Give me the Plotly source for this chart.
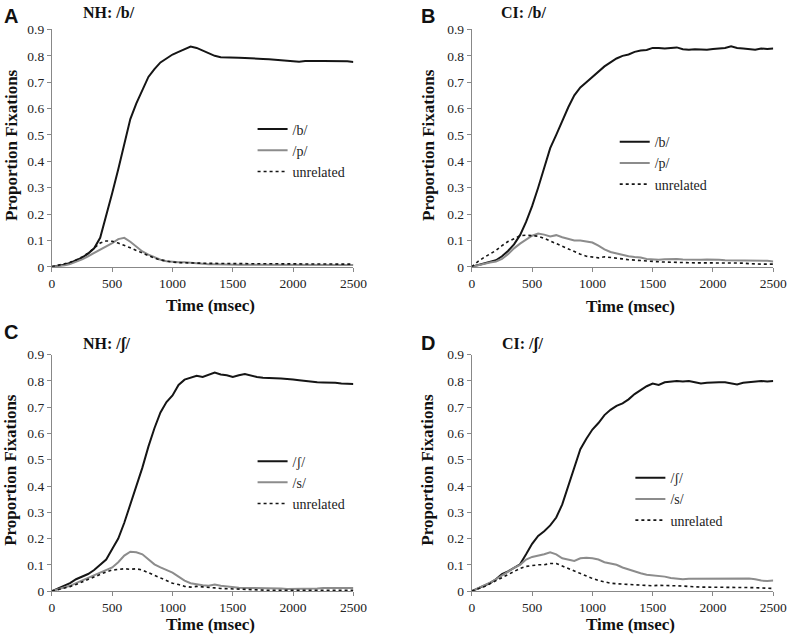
import plotly.graph_objects as go

W, H = 800, 644

time_ms = [0, 50, 100, 150, 200, 250, 300, 350, 400, 450, 500, 550, 600, 650, 700, 750,
           800, 850, 900, 950, 1000, 1050, 1100, 1150, 1200, 1250, 1300, 1350, 1400, 1450,
           1500, 1550, 1600, 1650, 1700, 1750, 1800, 1850, 1900, 1950, 2000, 2050, 2100,
           2150, 2200, 2250, 2300, 2350, 2400, 2450, 2500]

# Panel A: NH /b/
a_target = [0.0, 0.003, 0.008, 0.015, 0.025, 0.035, 0.05, 0.07, 0.11, 0.19, 0.28, 0.37, 0.47,
            0.56, 0.62, 0.67, 0.72, 0.75, 0.775, 0.79, 0.805, 0.815, 0.825, 0.835, 0.83, 0.82,
            0.81, 0.80, 0.795, 0.795, 0.795, 0.793, 0.792, 0.79, 0.79, 0.788, 0.787, 0.785,
            0.782, 0.78, 0.778, 0.778, 0.78, 0.779, 0.78, 0.78, 0.78, 0.779, 0.78, 0.779, 0.777]
a_competitor = [0.0, 0.002, 0.005, 0.01, 0.018, 0.028, 0.04, 0.052, 0.065, 0.078, 0.09, 0.105,
                0.11, 0.095, 0.075, 0.058, 0.046, 0.036, 0.027, 0.021, 0.018, 0.017, 0.017,
                0.015, 0.012, 0.011, 0.01, 0.01, 0.009, 0.008, 0.008, 0.008, 0.008, 0.008,
                0.008, 0.008, 0.008, 0.008, 0.008, 0.008, 0.008, 0.008, 0.008, 0.008, 0.009,
                0.008, 0.008, 0.007, 0.007, 0.007, 0.007]
a_unrelated = [0.0, 0.005, 0.01, 0.017, 0.026, 0.037, 0.052, 0.072, 0.09, 0.098, 0.097, 0.09,
               0.082, 0.072, 0.062, 0.052, 0.042, 0.033, 0.026, 0.021, 0.018, 0.016, 0.015,
               0.015, 0.015, 0.014, 0.013, 0.013, 0.012, 0.012, 0.012, 0.012, 0.012, 0.012,
               0.011, 0.012, 0.012, 0.011, 0.012, 0.012, 0.012, 0.011, 0.011, 0.011, 0.011,
               0.011, 0.01, 0.01, 0.01, 0.01, 0.01]

# Panel B: CI /b/
b_target = [0.0, 0.006, 0.012, 0.018, 0.025, 0.04, 0.06, 0.085, 0.12, 0.17, 0.23, 0.30, 0.38,
            0.45, 0.50, 0.555, 0.605, 0.65, 0.68, 0.70, 0.72, 0.74, 0.76, 0.775, 0.79, 0.80,
            0.805, 0.815, 0.82, 0.822, 0.83, 0.83, 0.828, 0.83, 0.832, 0.825, 0.823, 0.825,
            0.825, 0.823, 0.826, 0.828, 0.83, 0.836, 0.83, 0.828, 0.826, 0.823, 0.828, 0.826,
            0.828]
b_competitor = [0.0, 0.006, 0.012, 0.016, 0.02, 0.03, 0.048, 0.07, 0.088, 0.103, 0.118, 0.126,
                0.122, 0.115, 0.12, 0.112, 0.106, 0.1, 0.1, 0.097, 0.092, 0.08, 0.066, 0.056,
                0.05, 0.045, 0.04, 0.037, 0.035, 0.03, 0.028, 0.027, 0.029, 0.03, 0.03, 0.028,
                0.027, 0.027, 0.027, 0.028, 0.028, 0.027, 0.025, 0.025, 0.025, 0.025, 0.024,
                0.024, 0.024, 0.023, 0.02]
b_unrelated = [0.0, 0.02, 0.035, 0.048, 0.062, 0.08, 0.096, 0.106, 0.118, 0.12, 0.118, 0.116,
               0.108, 0.098, 0.088, 0.075, 0.065, 0.056, 0.048, 0.04, 0.036, 0.034, 0.038,
               0.036, 0.032, 0.03, 0.027, 0.025, 0.023, 0.022, 0.02, 0.019, 0.018, 0.017,
               0.016, 0.016, 0.015, 0.015, 0.015, 0.015, 0.015, 0.015, 0.015, 0.015, 0.016,
               0.014, 0.012, 0.01, 0.01, 0.01, 0.01]

# Panel C: NH /ʃ/
c_target = [0.0, 0.01, 0.02, 0.03, 0.045, 0.055, 0.065, 0.08, 0.1, 0.12, 0.16, 0.2, 0.26, 0.33,
            0.4, 0.47, 0.55, 0.62, 0.68, 0.72, 0.745, 0.785, 0.805, 0.812, 0.82, 0.815, 0.825,
            0.832, 0.825, 0.822, 0.815, 0.822, 0.826, 0.82, 0.815, 0.812, 0.81, 0.81, 0.809,
            0.808, 0.806, 0.803, 0.8, 0.797, 0.795, 0.794, 0.794, 0.793, 0.79, 0.789, 0.788]
c_competitor = [0.0, 0.006, 0.012, 0.02, 0.03, 0.04, 0.05, 0.06, 0.07, 0.08, 0.09, 0.11, 0.135,
                0.15, 0.148, 0.14, 0.122, 0.102, 0.09, 0.08, 0.07, 0.055, 0.04, 0.03, 0.025,
                0.022, 0.02, 0.025, 0.02, 0.017, 0.015, 0.013, 0.012, 0.012, 0.012, 0.011,
                0.01, 0.01, 0.01, 0.008, 0.008, 0.01, 0.01, 0.01, 0.01, 0.012, 0.012, 0.012,
                0.012, 0.012, 0.012]
c_unrelated = [0.0, 0.005, 0.01, 0.017, 0.025, 0.035, 0.045, 0.055, 0.065, 0.073, 0.08, 0.083,
               0.085, 0.083, 0.085, 0.08, 0.07, 0.06, 0.05, 0.04, 0.03, 0.025, 0.018, 0.015,
               0.018, 0.016, 0.015, 0.012, 0.01, 0.009, 0.008, 0.006, 0.005, 0.004, 0.004,
               0.003, 0.003, 0.003, 0.003, 0.003, 0.003, 0.003, 0.003, 0.003, 0.003, 0.003,
               0.003, 0.003, 0.003, 0.003, 0.003]

# Panel D: CI /ʃ/
d_target = [0.0, 0.01, 0.02, 0.03, 0.045, 0.065, 0.075, 0.088, 0.102, 0.14, 0.18, 0.21, 0.228,
            0.25, 0.28, 0.33, 0.4, 0.47, 0.54, 0.58, 0.615, 0.64, 0.67, 0.69, 0.705, 0.715,
            0.73, 0.75, 0.765, 0.78, 0.79, 0.785, 0.795, 0.797, 0.8, 0.798, 0.8, 0.795, 0.79,
            0.793, 0.795, 0.795, 0.795, 0.79, 0.787, 0.793, 0.795, 0.796, 0.8, 0.798, 0.8]
d_competitor = [0.0, 0.01, 0.02, 0.032, 0.045, 0.06, 0.075, 0.088, 0.1, 0.12, 0.13, 0.135, 0.14,
                0.148, 0.14, 0.125, 0.12, 0.115, 0.125, 0.127, 0.125, 0.12, 0.11, 0.105, 0.1,
                0.09, 0.082, 0.075, 0.068, 0.062, 0.06, 0.058, 0.055, 0.05, 0.048, 0.045,
                0.047, 0.047, 0.047, 0.047, 0.047, 0.047, 0.047, 0.048, 0.048, 0.048, 0.048,
                0.045, 0.04, 0.038, 0.04]
d_unrelated = [0.0, 0.008, 0.016, 0.028, 0.04, 0.053, 0.065, 0.076, 0.086, 0.094, 0.098, 0.1,
               0.1, 0.105, 0.105, 0.095, 0.085, 0.075, 0.065, 0.056, 0.048, 0.04, 0.035, 0.03,
               0.028, 0.027, 0.025, 0.024, 0.023, 0.022, 0.02, 0.022, 0.022, 0.021, 0.02,
               0.019, 0.017, 0.016, 0.015, 0.015, 0.015, 0.015, 0.015, 0.015, 0.015, 0.015,
               0.014, 0.013, 0.012, 0.011, 0.01]

panel_letters = ["A", "B", "C", "D"]
panel_titles = ["NH: /b/", "CI: /b/", "NH: /ʃ/", "CI: /ʃ/"]
series_names = [["/b/", "/p/", "unrelated"], ["/b/", "/p/", "unrelated"],
                ["/ʃ/", "/s/", "unrelated"], ["/ʃ/", "/s/", "unrelated"]]
panel_data = [[a_target, a_competitor, a_unrelated],
              [b_target, b_competitor, b_unrelated],
              [c_target, c_competitor, c_unrelated],
              [d_target, d_competitor, d_unrelated]]
x_ticks = [0, 500, 1000, 1500, 2000, 2500]
y_ticks = [0, 0.1, 0.2, 0.3, 0.4, 0.5, 0.6, 0.7, 0.8, 0.9]
y_ticklabels = ["0", "0.1", "0.2", "0.3", "0.4", "0.5", "0.6", "0.7", "0.8", "0.9"]

# pixel geometry of each plot area: (left, right, top, bottom)
boxes = [(50, 358, 23, 266), (479, 787, 23, 266), (50, 358, 356, 598), (479, 787, 356, 598)]
legend_pos = [(255, 109), (625, 122), (255, 449), (641, 466)]
letter_pos = [(8, 9), (434, 9), (8, 333), (434, 344)]
title_pos = [(80, 6), (507, 6), (80, 345), (508, 345)]
ytitle_x = [8, 434, 8, 434]
xtitle_y = [306, 307, 632, 632]

styles = [dict(color="#151515", width=2),
          dict(color="#8c8c8c", width=2),
          dict(color="#151515", width=1.6, dash="dot")]

SERIF = "Liberation Serif"
SANS = "Liberation Sans"

fig = go.Figure()
annotations = []
layout = dict(width=W, height=H, margin=dict(l=0, r=0, t=0, b=0),
              paper_bgcolor="white", plot_bgcolor="white", showlegend=True)

for i in range(4):
    l, r, t, b = boxes[i]
    sfx = "" if i == 0 else str(i + 1)
    leg = "legend" if i == 0 else "legend" + str(i + 1)
    for k in range(3):
        fig.add_trace(go.Scatter(
            x=time_ms, y=panel_data[i][k], mode="lines", name=series_names[i][k],
            line=styles[k], xaxis="x" + sfx, yaxis="y" + sfx, legend=leg,
            hoverinfo="skip"))
    layout["xaxis" + sfx] = dict(
        domain=[l / W, r / W], anchor="y" + sfx, range=[0, 2500],
        tickvals=x_ticks, ticks="outside", ticklen=4, tickcolor="#888888",
        showline=True, linecolor="#888888", linewidth=1, showgrid=False, zeroline=False,
        tickfont=dict(family=SERIF, size=13.5, color="#222222"), fixedrange=True)
    layout["yaxis" + sfx] = dict(
        domain=[1 - b / H, 1 - t / H], anchor="x" + sfx, range=[0, 0.9],
        tickvals=y_ticks, ticktext=y_ticklabels, ticks="outside", ticklen=4,
        tickcolor="#888888", showline=True, linecolor="#888888", linewidth=1,
        showgrid=False, zeroline=False,
        tickfont=dict(family=SERIF, size=13.5, color="#222222"), fixedrange=True)
    lx, ly = legend_pos[i]
    layout[leg] = dict(x=lx / W, y=1 - ly / H, xanchor="left", yanchor="top",
                       bgcolor="rgba(0,0,0,0)", borderwidth=0, itemwidth=30,
                       font=dict(family=SERIF, size=14, color="#222222"),
                       tracegroupgap=0)
    annotations.append(dict(text="<b>%s</b>" % panel_letters[i], x=letter_pos[i][0] / W,
                            y=1 - letter_pos[i][1] / H, xref="paper", yref="paper",
                            xanchor="center", yanchor="middle", showarrow=False,
                            font=dict(family=SANS, size=20, color="#111111")))
    annotations.append(dict(text="<b>%s</b>" % panel_titles[i], x=title_pos[i][0] / W,
                            y=1 - title_pos[i][1] / H, xref="paper", yref="paper",
                            xanchor="left", yanchor="middle", showarrow=False,
                            font=dict(family=SERIF, size=16, color="#111111")))
    annotations.append(dict(text="<b>Time (msec)</b>", x=((l + r) / 2 + 8) / W,
                            y=1 - xtitle_y[i] / H, xref="paper", yref="paper",
                            xanchor="center", yanchor="middle", showarrow=False,
                            font=dict(family=SERIF, size=17, color="#111111")))
    annotations.append(dict(text="<b>Proportion Fixations</b>", x=ytitle_x[i] / W,
                            y=1 - ((t + b) / 2 - 3) / H, xref="paper", yref="paper",
                            xanchor="center", yanchor="middle", textangle=-90,
                            showarrow=False,
                            font=dict(family=SERIF, size=17, color="#111111")))

layout["annotations"] = annotations
fig.update_layout(**layout)
fig.write_html("out.html", config={"displayModeBar": False, "staticPlot": True},
               post_script="document.body.style.margin='0';document.body.style.overflow='hidden';")
